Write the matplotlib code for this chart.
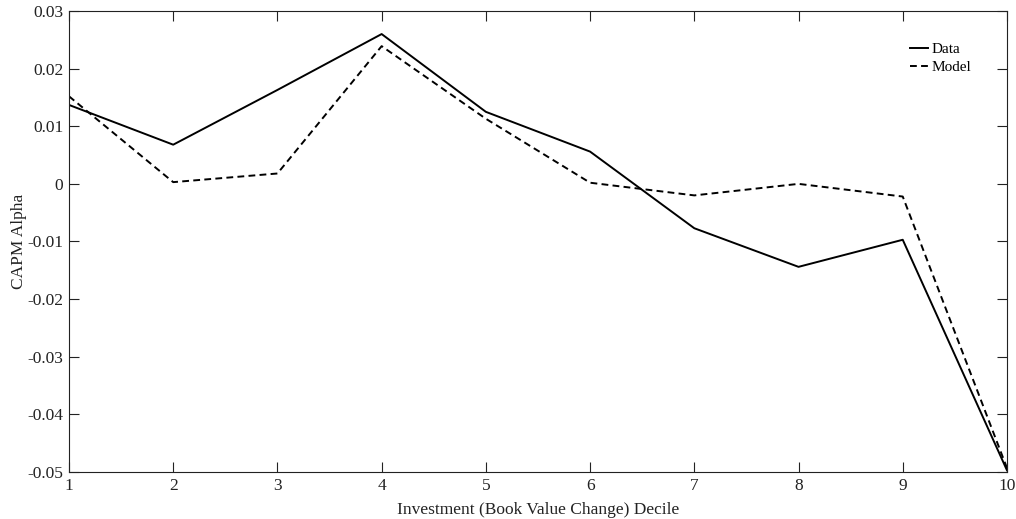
import matplotlib
matplotlib.use("Agg")
import matplotlib.pyplot as plt

deciles = [1, 2, 3, 4, 5, 6, 7, 8, 9, 10]
alpha_data = [0.0137, 0.0068, 0.0163, 0.0260, 0.0125, 0.0056, -0.0077, -0.0144, -0.0097, -0.0497]
alpha_model = [0.0152, 0.0003, 0.0018, 0.0239, 0.0113, 0.0002, -0.0020, 0.0000, -0.0022, -0.0493]
yticks = [0.03, 0.02, 0.01, 0, -0.01, -0.02, -0.03, -0.04, -0.05]
ytick_labels = ["0.03", "0.02", "0.01", "0", "-0.01", "-0.02", "-0.03", "-0.04", "-0.05"]

plt.rcParams["font.family"] = ["Liberation Serif", "DejaVu Serif"]

fig = plt.figure(figsize=(10.16, 5.19), dpi=100)
ax = fig.add_axes([0.0679, 0.0906, 0.9232, 0.8882])

ax.plot(deciles, alpha_data, color="black", lw=1.4, ls="-", label="Data")
ax.plot(deciles, alpha_model, color="black", lw=1.4, ls=(0, (3.5, 2.2)), label="Model")

ax.set_xlim(1, 10)
ax.set_ylim(-0.05, 0.03)
ax.set_xticks(deciles)
ax.set_xticklabels([str(d) for d in deciles])
ax.set_yticks(yticks)
ax.set_yticklabels(ytick_labels)

ax.tick_params(direction="in", length=7.5, width=0.8, top=True, right=True,
               labelsize=12.5, colors="#222222", labelcolor="#222222", pad=4)
for s in ax.spines.values():
    s.set_linewidth(0.8)
    s.set_color("#222222")

ax.set_xlabel("Investment (Book Value Change) Decile", fontsize=12.5, color="#222222", labelpad=6)
ax.set_ylabel("CAPM Alpha", fontsize=12.5, color="#222222", labelpad=0)

leg = ax.legend(loc="upper right", bbox_to_anchor=(0.977, 0.962), frameon=False,
                fontsize=11, handlelength=1.2, handletextpad=0.25, labelspacing=0.3)

fig.savefig("out.png", dpi=100)
